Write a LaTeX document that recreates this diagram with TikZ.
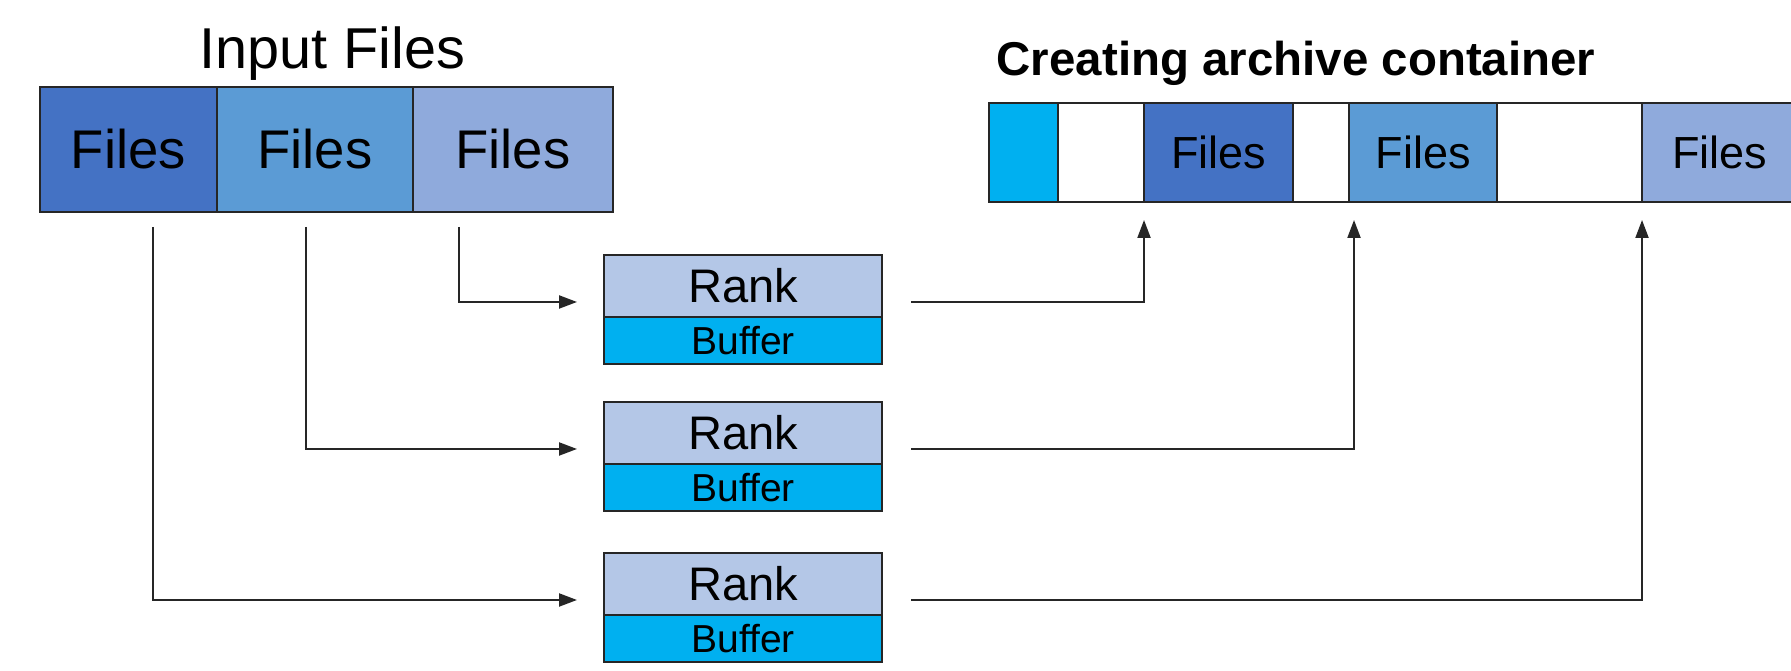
\documentclass[tikz,border=0pt]{standalone}
\usepackage{fontspec}
\setmainfont{Liberation Sans}
\usetikzlibrary{positioning,arrows.meta}
\definecolor{filesdark}{HTML}{4472C4}
\definecolor{filesmid}{HTML}{5B9BD5}
\definecolor{fileslight}{HTML}{8FAADC}
\definecolor{rankfill}{HTML}{B4C7E7}
\definecolor{bufffill}{HTML}{00B0F0}
\tikzset{
    >={Triangle[length=1.8mm,width=1.3mm]},
    seg/.style={
        rectangle,
        draw=black!85, semithick,
        inner sep=0pt, outer sep=0pt
    },
    infile/.style={seg, minimum height=1.25cm,
        font={\fontsize{15.5pt}{18}\selectfont}},
    archseg/.style={seg, minimum height=0.99cm,
        font={\fontsize{12.8pt}{15}\selectfont}},
    rankbox/.style={seg, fill=rankfill, minimum width=2.78cm, minimum height=0.62cm,
        font={\fontsize{13.4pt}{16}\selectfont}},
    buffbox/.style={seg, fill=bufffill, minimum width=2.78cm, minimum height=0.47cm,
        font={\fontsize{11.1pt}{13}\selectfont}},
    flow/.style={draw=black!85, semithick, ->},
}
\begin{document}
\begin{tikzpicture}[node distance=0pt]
\useasboundingbox (0,0) rectangle (17.91,6.71);
% input side
\node(inlabel) at (3.32,6.17)[font={\fontsize{16.4pt}{19}\selectfont}]{Input Files};
\node(in1) at (1.285,5.215)[infile, fill=filesdark, minimum width=1.77cm]{Files};
\node(in2)[infile, fill=filesmid, minimum width=1.96cm, right=of in1]{Files};
\node(in3)[infile, fill=fileslight, minimum width=2.00cm, right=of in2]{Files};
% archive container
\node(archlabel) at (9.96,6.08)[anchor=west, inner sep=0pt, font={\bfseries\fontsize{13.5pt}{16}\selectfont}]{Creating archive container};
\begin{scope}
\clip (9.8,4.5) rectangle (17.91,5.9);
\node(a1) at (10.235,5.185)[archseg, fill=bufffill, minimum width=0.69cm]{};
\node(a2)[archseg, fill=white, minimum width=0.86cm, right=of a1]{};
\node(a3)[archseg, fill=filesdark, minimum width=1.49cm, right=of a2]{Files};
\node(a4)[archseg, fill=white, minimum width=0.56cm, right=of a3]{};
\node(a5)[archseg, fill=filesmid, minimum width=1.48cm, right=of a4]{Files};
\node(a6)[archseg, fill=white, minimum width=1.45cm, right=of a5]{};
\node(a7)[archseg, fill=fileslight, minimum width=1.55cm, right=of a6]{Files};
\end{scope}
% ranks
\node(rank1) at (7.43,3.85)[rankbox]{Rank};
\node(buf1)[buffbox, below=of rank1]{Buffer};
\node(rank2) at (7.43,2.38)[rankbox]{Rank};
\node(buf2)[buffbox, below=of rank2]{Buffer};
\node(rank3) at (7.43,0.87)[rankbox]{Rank};
\node(buf3)[buffbox, below=of rank3]{Buffer};
% files to ranks
\draw[flow, shorten >=2.7mm] ([xshift=4.6mm, yshift=-1.5mm]in3.south west) |- ([yshift=1.5mm]rank1.south west);
\draw[flow, shorten >=2.7mm] ([xshift=8.9mm, yshift=-1.5mm]in2.south west) |- ([yshift=1.5mm]rank2.south west);
\draw[flow, shorten >=2.7mm] ([xshift=11.3mm, yshift=-1.5mm]in1.south west) |- ([yshift=1.5mm]rank3.south west);
% ranks to container
\draw[flow, shorten >=1.8mm] ([xshift=2.9mm, yshift=1.5mm]rank1.south east) -| (a3.south west);
\draw[flow, shorten >=1.8mm] ([xshift=2.9mm, yshift=1.5mm]rank2.south east) -| ([xshift=0.5mm]a5.south west);
\draw[flow, shorten >=1.8mm] ([xshift=2.9mm, yshift=1.5mm]rank3.south east) -| (a7.south west);
\end{tikzpicture}
\end{document}
